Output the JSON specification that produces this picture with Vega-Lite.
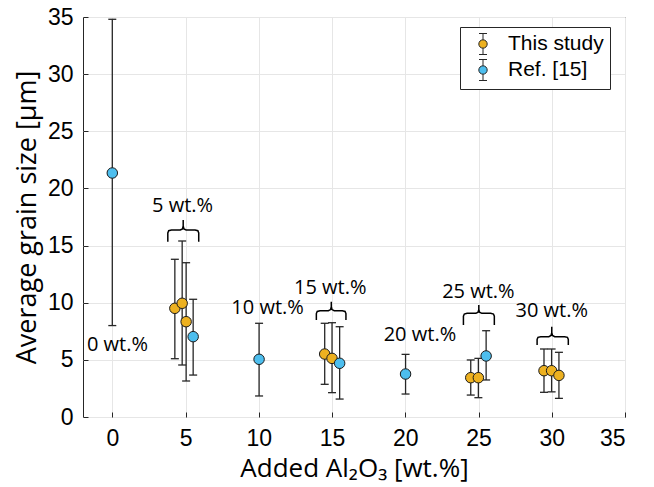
{
  "$schema": "https://vega.github.io/schema/vega-lite/v6.json",
  "width": 542,
  "height": 400,
  "autosize": {"type": "none"},
  "padding": {"left": 83, "top": 17, "right": 29, "bottom": 70},
  "background": "white",
  "config": {
    "view": {"stroke": "#262626", "strokeWidth": 1},
    "axis": {
      "gridColor": "#e6e6e6",
      "gridWidth": 1,
      "domain": false,
      "ticks": true,
      "tickSize": -5,
      "tickColor": "#262626",
      "labelFont": "Liberation Sans",
      "labelFontSize": 23,
      "labelColor": "#000000",
      "titleFont": "Open Sans",
      "titleFontSize": 27,
      "titleFontWeight": "normal",
      "titleColor": "#000000"
    }
  },
  "datasets": {
    "pts": [
      {"series": "This study", "x": 4.27, "y": 9.51, "lo": 5.1, "hi": 13.8},
      {"series": "This study", "x": 4.77, "y": 9.95, "lo": 4.55, "hi": 15.4},
      {"series": "This study", "x": 5.04, "y": 8.34, "lo": 3.15, "hi": 13.5},
      {"series": "This study", "x": 14.5, "y": 5.51, "lo": 2.86, "hi": 8.2},
      {"series": "This study", "x": 15.0, "y": 5.13, "lo": 2.13, "hi": 8.25},
      {"series": "This study", "x": 24.47, "y": 3.44, "lo": 1.92, "hi": 4.99},
      {"series": "This study", "x": 24.99, "y": 3.44, "lo": 1.69, "hi": 5.13},
      {"series": "This study", "x": 29.47, "y": 4.05, "lo": 2.16, "hi": 5.95},
      {"series": "This study", "x": 29.99, "y": 4.05, "lo": 2.2, "hi": 5.95},
      {"series": "This study", "x": 30.49, "y": 3.64, "lo": 1.63, "hi": 5.66},
      {"series": "Ref. [15]", "x": 0.0, "y": 21.35, "lo": 8.0, "hi": 34.8},
      {"series": "Ref. [15]", "x": 5.52, "y": 7.03, "lo": 3.67, "hi": 10.3},
      {"series": "Ref. [15]", "x": 10.02, "y": 5.05, "lo": 1.84, "hi": 8.2},
      {"series": "Ref. [15]", "x": 15.52, "y": 4.7, "lo": 1.57, "hi": 7.9},
      {"series": "Ref. [15]", "x": 20.02, "y": 3.76, "lo": 2.01, "hi": 5.48},
      {"series": "Ref. [15]", "x": 25.52, "y": 5.34, "lo": 3.24, "hi": 7.55}
    ],
    "labels": [
      {"x": 0.35, "y": 6.3, "text": "0 wt.%"},
      {"x": 4.8, "y": 18.5, "text": "5 wt.%"},
      {"x": 10.6, "y": 9.5, "text": "10 wt.%"},
      {"x": 14.88, "y": 11.3, "text": "15 wt.%"},
      {"x": 21.0, "y": 7.2, "text": "20 wt.%"},
      {"x": 24.99, "y": 10.96, "text": "25 wt.%"},
      {"x": 30.0, "y": 9.25, "text": "30 wt.%"}
    ],
    "braces": [
      {"b": "5", "i": 1, "x": 3.79, "y": 15.34},
      {"b": "5", "i": 2, "x": 3.79, "y": 16.11},
      {"b": "5", "i": 3, "x": 3.85, "y": 16.30},
      {"b": "5", "i": 4, "x": 4.04, "y": 16.36},
      {"b": "5", "i": 5, "x": 4.64, "y": 16.36},
      {"b": "5", "i": 6, "x": 4.79, "y": 16.46},
      {"b": "5", "i": 7, "x": 4.84, "y": 16.71},
      {"b": "5", "i": 8, "x": 4.84, "y": 17.24},
      {"b": "5", "i": 9, "x": 4.84, "y": 16.71},
      {"b": "5", "i": 10, "x": 4.89, "y": 16.46},
      {"b": "5", "i": 11, "x": 5.04, "y": 16.36},
      {"b": "5", "i": 12, "x": 5.65, "y": 16.36},
      {"b": "5", "i": 13, "x": 5.84, "y": 16.30},
      {"b": "5", "i": 14, "x": 5.9, "y": 16.11},
      {"b": "5", "i": 15, "x": 5.9, "y": 15.34},
      {"b": "15", "i": 1, "x": 13.93, "y": 8.49},
      {"b": "15", "i": 2, "x": 13.93, "y": 9.05},
      {"b": "15", "i": 3, "x": 13.99, "y": 9.24},
      {"b": "15", "i": 4, "x": 14.18, "y": 9.3},
      {"b": "15", "i": 5, "x": 14.75, "y": 9.3},
      {"b": "15", "i": 6, "x": 14.9, "y": 9.4},
      {"b": "15", "i": 7, "x": 14.95, "y": 9.65},
      {"b": "15", "i": 8, "x": 14.95, "y": 10.09},
      {"b": "15", "i": 9, "x": 14.95, "y": 9.65},
      {"b": "15", "i": 10, "x": 15.0, "y": 9.4},
      {"b": "15", "i": 11, "x": 15.15, "y": 9.3},
      {"b": "15", "i": 12, "x": 15.7, "y": 9.3},
      {"b": "15", "i": 13, "x": 15.89, "y": 9.24},
      {"b": "15", "i": 14, "x": 15.95, "y": 9.05},
      {"b": "15", "i": 15, "x": 15.95, "y": 8.49},
      {"b": "25", "i": 1, "x": 23.97, "y": 8.05},
      {"b": "25", "i": 2, "x": 23.97, "y": 8.82},
      {"b": "25", "i": 3, "x": 24.03, "y": 9.01},
      {"b": "25", "i": 4, "x": 24.22, "y": 9.07},
      {"b": "25", "i": 5, "x": 24.82, "y": 9.07},
      {"b": "25", "i": 6, "x": 24.97, "y": 9.17},
      {"b": "25", "i": 7, "x": 25.02, "y": 9.42},
      {"b": "25", "i": 8, "x": 25.02, "y": 9.8},
      {"b": "25", "i": 9, "x": 25.02, "y": 9.42},
      {"b": "25", "i": 10, "x": 25.07, "y": 9.17},
      {"b": "25", "i": 11, "x": 25.22, "y": 9.07},
      {"b": "25", "i": 12, "x": 25.83, "y": 9.07},
      {"b": "25", "i": 13, "x": 26.02, "y": 9.01},
      {"b": "25", "i": 14, "x": 26.08, "y": 8.82},
      {"b": "25", "i": 15, "x": 26.08, "y": 8.05},
      {"b": "30", "i": 1, "x": 29.0, "y": 6.3},
      {"b": "30", "i": 2, "x": 29.0, "y": 6.78},
      {"b": "30", "i": 3, "x": 29.06, "y": 6.97},
      {"b": "30", "i": 4, "x": 29.25, "y": 7.03},
      {"b": "30", "i": 5, "x": 29.8, "y": 7.03},
      {"b": "30", "i": 6, "x": 29.95, "y": 7.13},
      {"b": "30", "i": 7, "x": 30.0, "y": 7.38},
      {"b": "30", "i": 8, "x": 30.0, "y": 7.9},
      {"b": "30", "i": 9, "x": 30.0, "y": 7.38},
      {"b": "30", "i": 10, "x": 30.05, "y": 7.13},
      {"b": "30", "i": 11, "x": 30.2, "y": 7.03},
      {"b": "30", "i": 12, "x": 30.88, "y": 7.03},
      {"b": "30", "i": 13, "x": 31.07, "y": 6.97},
      {"b": "30", "i": 14, "x": 31.13, "y": 6.78},
      {"b": "30", "i": 15, "x": 31.13, "y": 6.3}
    ]
  },
  "layer": [
    {
      "data": {"name": "pts"},
      "mark": {"type": "rule", "color": "#262626", "strokeWidth": 1.3},
      "encoding": {
        "x": {
          "field": "x", "type": "quantitative",
          "scale": {"domain": [-2, 35], "nice": false, "zero": false},
          "axis": {"values": [0, 5, 10, 15, 20, 25, 30, 35], "labelPadding": 15, "titlePadding": 5, "titleFontSize": 26},
          "title": "Added Al₂O₃ [wt.%]"
        },
        "y": {
          "field": "lo", "type": "quantitative",
          "scale": {"domain": [0, 35], "nice": false},
          "axis": {"values": [0, 5, 10, 15, 20, 25, 30, 35], "labelPadding": 15, "titlePadding": 6},
          "title": "Average grain size [μm]"
        },
        "y2": {"field": "hi"}
      }
    },
    {
      "data": {"name": "pts"},
      "mark": {"type": "tick", "orient": "horizontal", "size": 8, "thickness": 1.3, "color": "#262626", "opacity": 1},
      "encoding": {
        "x": {"field": "x", "type": "quantitative", "title": "Added Al₂O₃ [wt.%]"},
        "y": {"field": "lo", "type": "quantitative", "title": "Average grain size [μm]"}
      }
    },
    {
      "data": {"name": "pts"},
      "mark": {"type": "tick", "orient": "horizontal", "size": 8, "thickness": 1.3, "color": "#262626", "opacity": 1},
      "encoding": {
        "x": {"field": "x", "type": "quantitative", "title": "Added Al₂O₃ [wt.%]"},
        "y": {"field": "hi", "type": "quantitative", "title": "Average grain size [μm]"}
      }
    },
    {
      "data": {"name": "pts"},
      "mark": {"type": "point", "shape": "circle", "filled": true, "size": 110, "stroke": "#1a1a1a", "strokeWidth": 1, "opacity": 1},
      "encoding": {
        "x": {"field": "x", "type": "quantitative", "title": "Added Al₂O₃ [wt.%]"},
        "y": {"field": "y", "type": "quantitative", "title": "Average grain size [μm]"},
        "color": {
          "field": "series", "type": "nominal",
          "scale": {"domain": ["This study", "Ref. [15]"], "range": ["#EDB120", "#4DBEEE"]},
          "legend": {
            "title": null,
            "orient": "none",
            "legendX": 377,
            "legendY": 10,
            "symbolType": "M0,-1V-0.4M0,0.4V1M-0.38,-1H0.38M-0.38,1H0.38M-0.4,0A0.4,0.4,0,1,0,0.4,0A0.4,0.4,0,1,0,-0.4,0Z",
            "symbolSize": 441,
            "symbolStrokeColor": "#262626",
            "symbolStrokeWidth": 1,
            "symbolOpacity": 1,
            "labelFont": "Liberation Sans",
            "labelFontSize": 21,
            "labelColor": "#000000",
            "strokeColor": "#262626",
            "fillColor": "white",
            "padding": 6,
            "rowPadding": 0,
            "symbolOffset": 6,
            "labelOffset": 14
          }
        }
      }
    },
    {
      "data": {"name": "braces"},
      "mark": {"type": "line", "color": "#000000", "strokeWidth": 1.5},
      "encoding": {
        "x": {"field": "x", "type": "quantitative", "title": "Added Al₂O₃ [wt.%]"},
        "y": {"field": "y", "type": "quantitative", "title": "Average grain size [μm]"},
        "detail": {"field": "b", "type": "nominal"},
        "order": {"field": "i", "type": "quantitative"}
      }
    },
    {
      "data": {"name": "labels"},
      "mark": {"type": "text", "font": "Open Sans", "fontSize": 20, "color": "#000000", "align": "center", "baseline": "middle"},
      "encoding": {
        "x": {"field": "x", "type": "quantitative", "title": "Added Al₂O₃ [wt.%]"},
        "y": {"field": "y", "type": "quantitative", "title": "Average grain size [μm]"},
        "text": {"field": "text"}
      }
    }
  ]
}
